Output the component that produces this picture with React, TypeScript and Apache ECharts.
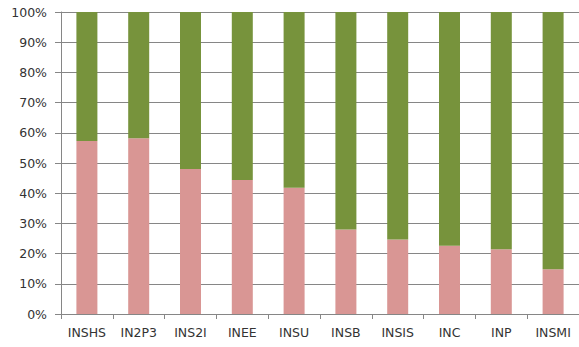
import React, { useEffect, useRef } from "react";
import * as echarts from "echarts";

const categories = ["INSHS", "IN2P3", "INS2I", "INEE", "INSU", "INSB", "INSIS", "INC", "INP", "INSMI"];
const pinkValues = [57.3, 58.2, 48.0, 44.4, 41.8, 28.0, 24.7, 22.6, 21.4, 14.8];
const greenValues = [42.7, 41.8, 52.0, 55.6, 58.2, 72.0, 75.3, 77.4, 78.6, 85.2];

export default function App() {
  const ref = useRef<HTMLDivElement>(null);
  useEffect(() => {
    const chart = echarts.init(ref.current!, null, { renderer: "svg" });
    const font = "'DejaVu Sans', sans-serif";
    chart.setOption({
      animation: false,
      backgroundColor: "#ffffff",
      grid: { left: 61, top: 12, bottom: 33, right: -5, containLabel: false },
      xAxis: {
        type: "category",
        data: categories,
        axisLine: { show: true, lineStyle: { color: "#868686", width: 1 } },
        axisTick: { show: true, length: 5, lineStyle: { color: "#868686" } },
        axisLabel: { color: "#333333", fontSize: 12.5, fontFamily: font, margin: 12 },
      },
      yAxis: {
        type: "value",
        min: 0,
        max: 100,
        interval: 10,
        axisLine: { show: true, lineStyle: { color: "#868686", width: 1 } },
        axisTick: { show: true, length: 6, lineStyle: { color: "#868686" } },
        splitLine: { show: true, lineStyle: { color: "#868686", width: 1 } },
        axisLabel: { color: "#333333", fontSize: 12.5, fontFamily: font, margin: 14, formatter: "{value}%" },
      },
      series: [
        {
          type: "bar",
          stack: "total",
          data: pinkValues,
          barWidth: 21,
          itemStyle: { color: "#D99694" },
        },
        {
          type: "bar",
          stack: "total",
          data: greenValues,
          barWidth: 21,
          itemStyle: { color: "#77933C" },
        },
      ],
    });
    return () => chart.dispose();
  }, []);
  return <div ref={ref} style={{ width: 579, height: 347, position: "absolute", left: 0, top: 0 }} />;
}
